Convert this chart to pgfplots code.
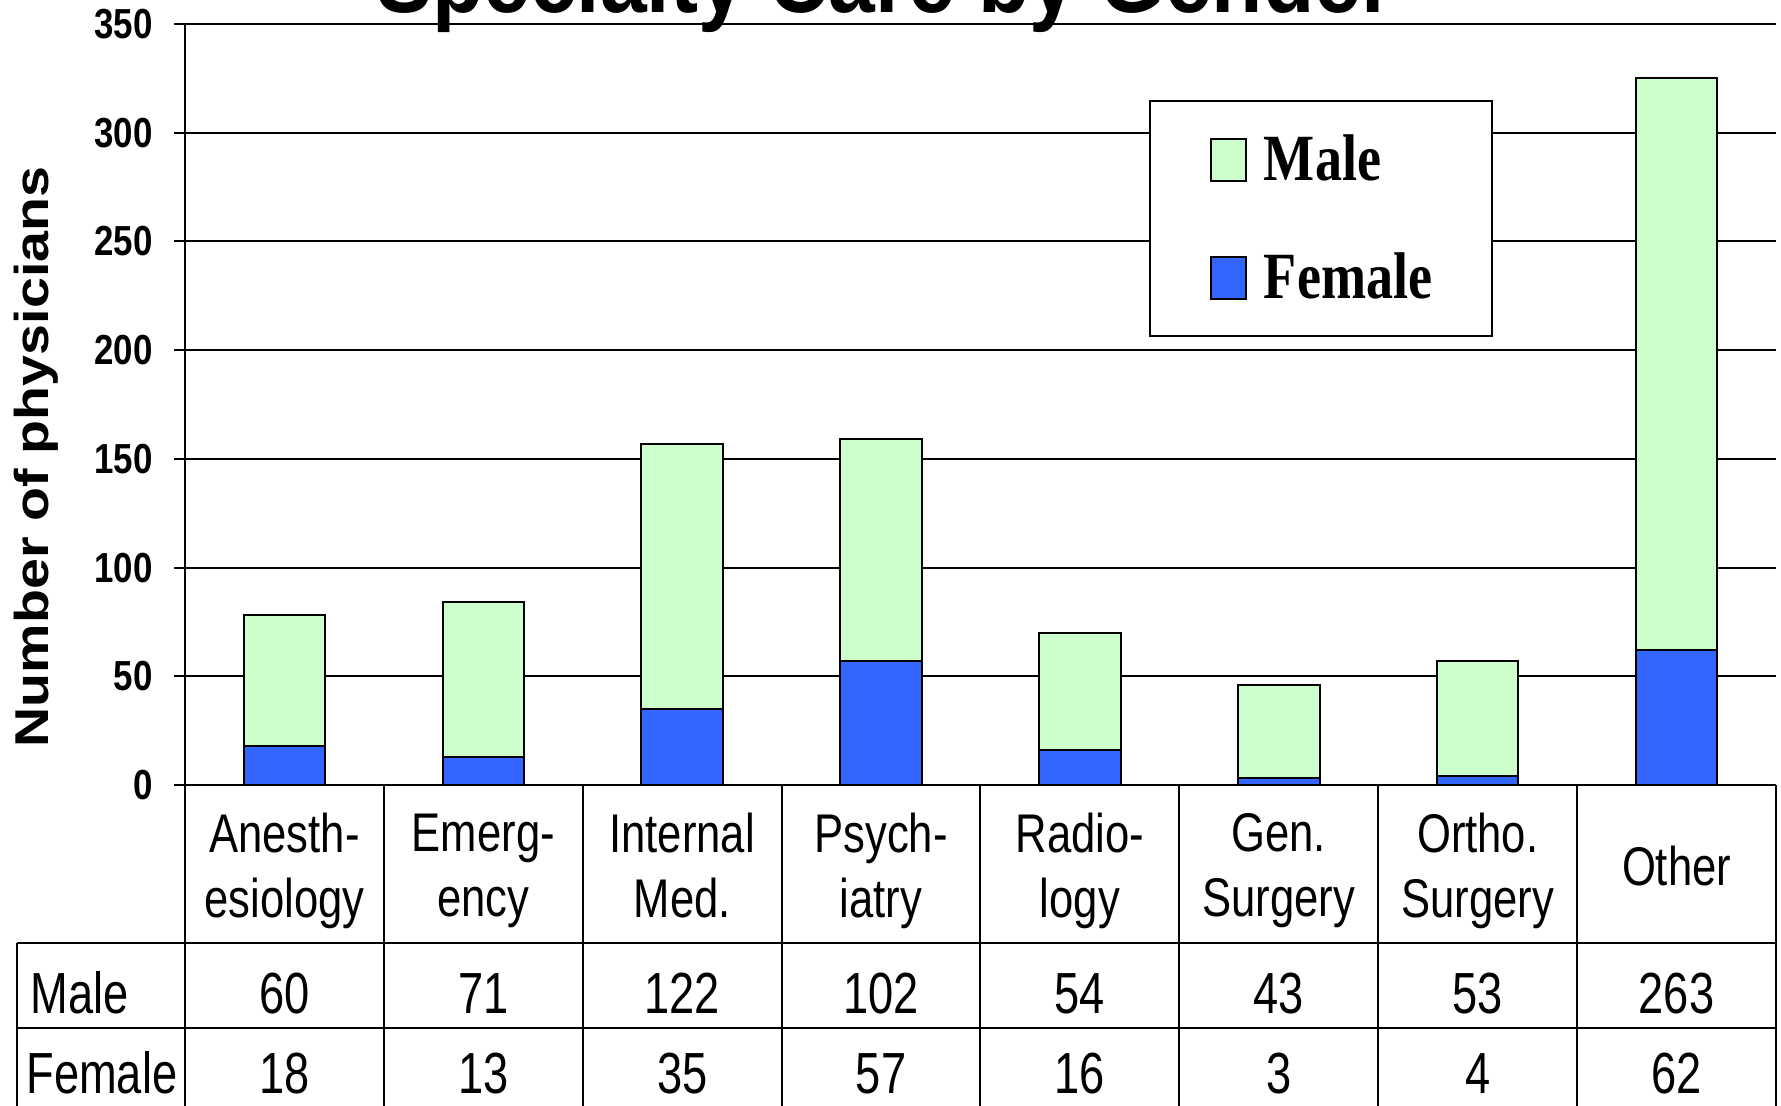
\documentclass[border=0pt]{standalone}
\usepackage{pgfplots}
\pgfplotsset{compat=1.18}
\usepackage{fontspec}
\setmainfont{Liberation Sans}
\newfontfamily\condA[FakeStretch=0.83]{Liberation Sans}
\newfontfamily\condT[FakeStretch=0.866]{Liberation Sans}
\newfontfamily\condY[FakeStretch=1.17]{Liberation Sans}
\newfontfamily\condH[FakeStretch=0.80]{Liberation Sans}
\newfontfamily\condR[FakeStretch=0.78]{Liberation Sans}
\newfontfamily\serifL[FakeStretch=0.82]{Liberation Serif}
\newcommand\tickF{\fontsize{16.8pt}{18pt}\condA\bfseries}
\newcommand\titleF{\fontsize{38.8pt}{40pt}\condT\bfseries}
\newcommand\ylabF{\fontsize{19pt}{21pt}\condY\bfseries}
\newcommand\headF{\fontsize{21.8pt}{26pt}\condH}
\newcommand\rowF{\fontsize{23.2pt}{25pt}\condR}
\newcommand\legF{\fontsize{26.4pt}{28pt}\serifL\bfseries}
\definecolor{malec}{HTML}{CCFFCC}
\definecolor{femalec}{HTML}{3366FF}
\pgfplotsset{sqlegend/.style={legend image code/.code={\draw[##1,line width=0.8pt] (0pt,-8.4pt) rectangle (14pt,8.4pt);}}}
\begin{document}
\begin{tikzpicture}
\path[use as bounding box] (0,0) rectangle (712.4pt,442pt);
\clip (0,0) rectangle (712.4pt,442pt);
\begin{axis}[
  at={(74pt,128pt)}, anchor=south west,
  scale only axis, width=636.4pt, height=304.4pt,
  ybar stacked, bar width=0.41,
  xmin=-0.5, xmax=7.5, ymin=0, ymax=350,
  ytick={0,50,...,350},
  xtick={0,...,7},
  xticklabels={{Anesth-\\esiology},{Emerg-\\ency},{Internal\\Med.\vphantom{gy}},{Psych-\\iatry},{Radio-\\logy},{Gen.\\Surgery},{Ortho.\\Surgery},{Other\vphantom{gy}}},
  axis lines*=left,
  axis line style={line width=0.8pt, black},
  ymajorgrids, grid style={line width=0.8pt, black},
  xtick style={draw=none},
  ytick style={line width=0.8pt, black},
  tick align=outside, major tick length=4.4pt,
  /pgf/number format/assume math mode=true,
  yticklabel style={font=\tickF, inner sep=0pt, xshift=-8.4pt},
  xticklabel style={font=\headF, align=center, anchor=center, yshift=-30pt},
  ylabel={Number of physicians},
  ylabel style={at={(axis description cs:-0.0933,0.431)}, anchor=center, font=\ylabF},
  title={Specialty Care by Gender},
  title style={at={(axis description cs:0.4400,1.0105)}, anchor=base, yshift=-4.5pt, font=\titleF},
  reverse legend,
  legend style={at={(axis description cs:0.6059,0.9001)}, anchor=north west,
    draw=black, line width=0.8pt, fill=white, inner xsep=24pt, inner ysep=13.5pt,
    row sep=27.5pt, column sep=6.8pt, font=\legF, nodes={inner sep=0pt}, cells={anchor=west}},
]
\addplot[fill=femalec, draw=black, line width=0.8pt, sqlegend] coordinates {(0,18) (1,13) (2,35) (3,57) (4,16) (5,3) (6,4) (7,62)};
\addplot[fill=malec, draw=black, line width=0.8pt, sqlegend] coordinates {(0,60) (1,71) (2,122) (3,102) (4,54) (5,43) (6,53) (7,263)};
\legend{Female,Male}
\end{axis}
\begin{scope}[x=0.4pt,y=0.4pt]
\draw[line width=0.8pt] (17,162) -- (1776,162);
\draw[line width=0.8pt] (17,77) -- (1776,77);
\draw[line width=0.8pt] (17,162) -- (17,-10);
\foreach \k in {0,...,8} \draw[line width=0.8pt] ({185+198.875*\k},320) -- ({185+198.875*\k},-10);
\node[anchor=base west, inner sep=0pt, font=\rowF] at (30,92) {Male};
\node[anchor=base west, inner sep=0pt, font=\rowF] at (26,12) {Female};
\foreach \v [count=\i from 0] in {60,71,122,102,54,43,53,263}
  \node[anchor=base, inner sep=0pt, font=\rowF] at ({185+198.875*(\i+0.5)},92) {\v};
\foreach \v [count=\i from 0] in {18,13,35,57,16,3,4,62}
  \node[anchor=base, inner sep=0pt, font=\rowF] at ({185+198.875*(\i+0.5)},12) {\v};
\end{scope}
\end{tikzpicture}
\end{document}
